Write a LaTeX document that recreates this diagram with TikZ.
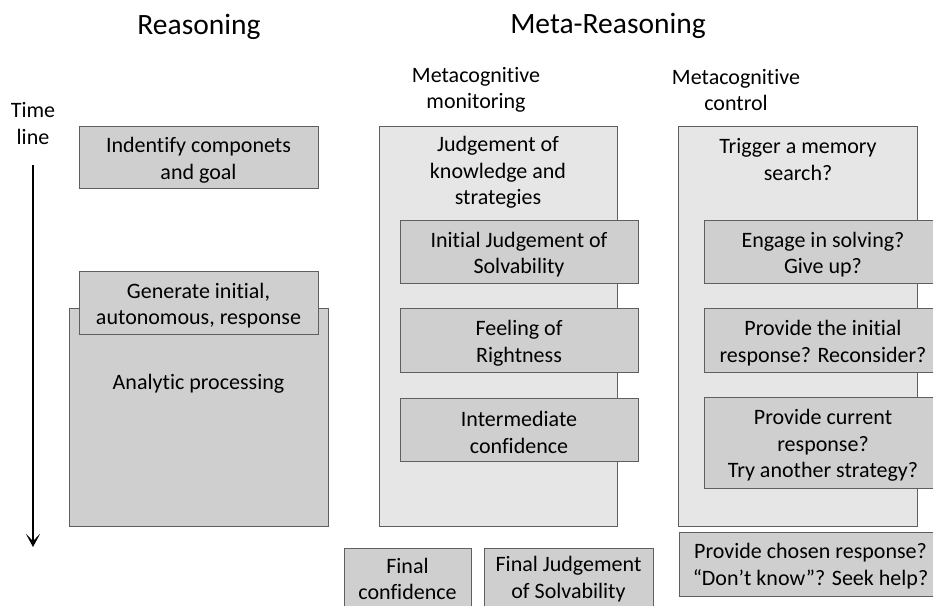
\documentclass[tikz,border=0pt]{standalone}
\usepackage{fontspec}
\setmainfont{Carlito}[Ligatures=NoCommon]
\usetikzlibrary{arrows.meta}
\definecolor{boxgray}{RGB}{208,207,207}
\definecolor{panelgray}{RGB}{231,230,230}
\definecolor{boxline}{RGB}{95,95,95}
\newcommand{\bodyfont}{\fontsize{22}{26.5}\selectfont}
\newcommand{\headfont}{\fontsize{29.5}{34}\selectfont}
\begin{document}
\begin{tikzpicture}[x=1pt,y=-1pt,
	box/.style={draw=boxline,fill=boxgray,line width=0.8pt,inner sep=0pt},
	panel/.style={draw=boxline,fill=panelgray,line width=0.8pt,inner sep=0pt},
	txt/.style={align=center,inner sep=0pt,font=\bodyfont}]
\path[use as bounding box] (0,0) rectangle (933,605);
\clip (0,0) rectangle (933,605);
\fill[white] (0,0) rectangle (933,605);
% headers
\node (reason) [font=\headfont] at (199,27) {Reasoning};
\node (meta) [font=\headfont] at (608,26) {Meta-Reasoning};
\node (moni) [txt] at (476,90) {Metacognitive\\monitoring};
\node (ctrl) [txt] at (736,90) {Metacognitive\\control};
% time line
\node (time) [txt] at (33,123.5) {Time\\line};
\coordinate (tend) at (33,547);
\draw [line width=2.8pt,-{Stealth[length=13pt,width=14pt,inset=7pt]}] (33,165) -- (tend);
% reasoning column
\node (ident) [box,minimum width=239,minimum height=62] at (198.5,157) {};
\node (identtxt) [txt] at ([yshift=-3pt]ident.center) {Indentify componets\\and goal};
\node (analytic) [box,minimum width=259,minimum height=218] at (198.5,417) {};
\node (antxt) [txt] at (198.5,384) {Analytic processing};
\node (gener) [box,minimum width=239,minimum height=63] at (198.5,302.5) {};
\node (genertxt) [txt] at ([yshift=-3pt]gener.center) {Generate initial,\\autonomous, response};
% monitoring column
\node (mpanel) [panel,minimum width=238,minimum height=400] at (498,326) {};
\node (mjudge) [txt] at (498,172.5) {Judgement of\\knowledge and\\strategies};
\node (ijs) [box,minimum width=238,minimum height=63] at (519,251.5) {};
\node (ijstxt) [txt] at ([yshift=-3pt]ijs.center) {Initial Judgement of\\Solvability};
\node (fow) [box,minimum width=238,minimum height=64] at (519,340) {};
\node (fowtxt) [txt] at ([yshift=-3pt]fow.center) {Feeling of\\Rightness};
\node (interm) [box,minimum width=238,minimum height=63] at (519,429.5) {};
\node (intermtxt) [txt] at ([yshift=-3pt]interm.center) {Intermediate\\confidence};
\node (fconf) [box,minimum width=127,minimum height=64] at (407.5,580) {};
\node (fconftxt) [txt] at (407.5,579) {Final\\confidence};
\node (fjs) [box,minimum width=169,minimum height=64] at (568.5,580) {};
\node (fjstxt) [txt] at (568.5,579) {Final Judgement\\of Solvability};
% control column
\node (cpanel) [panel,minimum width=239,minimum height=400] at (797.5,326) {};
\node (trig) [txt] at (798,159.5) {Trigger a memory\\search?};
\node (engage) [box,minimum width=238,minimum height=63] at (823,251.5) {};
\node (engagetxt) [txt] at ([yshift=-3pt]engage.center) {Engage in solving?\\Give up?};
\node (provinit) [box,minimum width=238,minimum height=64] at (823,340) {};
\node (provinittxt) [txt] at ([yshift=-3pt]provinit.center) {Provide the initial\\response? Reconsider?};
\node (provcur) [box,minimum width=238,minimum height=91] at (823,442.5) {};
\node (provcurtxt) [txt] at ([yshift=-3pt]provcur.center) {Provide current\\response?\\Try another strategy?};
\node (provchos) [box,minimum width=263,minimum height=64] at (810.5,564) {};
\node (provchostxt) [txt] at ([yshift=-2pt]provchos.center) {Provide chosen response?\\“Don’t know”? Seek help?};
\end{tikzpicture}
\end{document}
